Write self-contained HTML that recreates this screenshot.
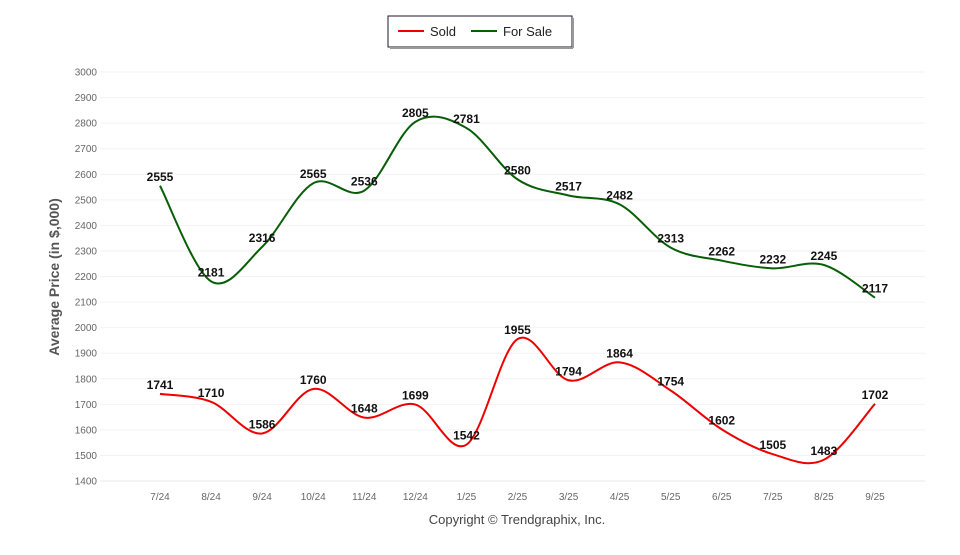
<!DOCTYPE html>
<html><head><meta charset="utf-8"><style>
body{margin:0;background:#fff;width:960px;height:550px;overflow:hidden;font-family:"Liberation Sans",sans-serif}
</style></head><body>
<svg id="s" width="960" height="550" xmlns="http://www.w3.org/2000/svg" font-family="Liberation Sans, sans-serif">
<rect x="388" y="16" width="184" height="31" fill="#fff" stroke="#1a1a2e" stroke-width="1"/>
<line x1="390" y1="48" x2="573" y2="48" stroke="#999" stroke-width="2"/>
<line x1="573" y1="18" x2="573" y2="48" stroke="#999" stroke-width="2"/>
<line x1="398" y1="31" x2="424" y2="31" stroke="#e00" stroke-width="2"/>
<text x="430" y="36" font-size="13" fill="#222">Sold</text>
<line x1="471" y1="31" x2="497" y2="31" stroke="#075e07" stroke-width="2"/>
<text x="503" y="36" font-size="13" fill="#222">For Sale</text>
<text transform="translate(59,277) rotate(-90)" text-anchor="middle" font-size="14" font-weight="bold" fill="#555">Average Price (in $,000)</text>
<text x="517" y="524" text-anchor="middle" font-size="13" fill="#444">Copyright © Trendgraphix, Inc.</text>
<g id="g"></g>
</svg>
<script>
var g=document.getElementById('g'),h='';
function Y(v){return 481-(v-1400)*409/1600}
function X(i){return 160+i*51.07}
for(var v=1400;v<=3000;v+=100){var y=Y(v);h+='<line x1="100" y1="'+y+'" x2="925" y2="'+y+'" stroke="'+(v==1400?'#e8e8e8':'#f2f2f2')+'" stroke-width="1"/>';h+='<text x="97" y="'+(y+3.5)+'" text-anchor="end" font-size="10" fill="#666">'+v+'</text>';}
var lab=['7/24','8/24','9/24','10/24','11/24','12/24','1/25','2/25','3/25','4/25','5/25','6/25','7/25','8/25','9/25'];
lab.forEach(function(l,i){h+='<text x="'+X(i)+'" y="500" text-anchor="middle" font-size="10" fill="#666">'+l+'</text>'});
function path(d){var p=d.map(function(v,i){return [X(i),Y(v)]});var s='M'+p[0][0]+','+p[0][1];
for(var i=0;i<p.length-1;i++){var p0=p[i-1]||p[i],p1=p[i],p2=p[i+1],p3=p[i+2]||p2;
s+=' C'+(p1[0]+(p2[0]-p0[0])/6)+','+(p1[1]+(p2[1]-p0[1])/6)+' '+(p2[0]-(p3[0]-p1[0])/6)+','+(p2[1]-(p3[1]-p1[1])/6)+' '+p2[0]+','+p2[1];}return s}
var fs=[2555,2181,2316,2565,2536,2805,2781,2580,2517,2482,2313,2262,2232,2245,2117];
var so=[1741,1710,1586,1760,1648,1699,1542,1955,1794,1864,1754,1602,1505,1483,1702];
h+='<path d="'+path(fs)+'" fill="none" stroke="#075e07" stroke-width="2"/>';
h+='<path d="'+path(so)+'" fill="none" stroke="#e00" stroke-width="2"/>';
[fs,so].forEach(function(d){d.forEach(function(v,i){h+='<text x="'+X(i)+'" y="'+(Y(v)-5)+'" text-anchor="middle" font-size="12" font-weight="bold" fill="#111">'+v+'</text>'})});
g.innerHTML=h;
</script>
</body></html>
